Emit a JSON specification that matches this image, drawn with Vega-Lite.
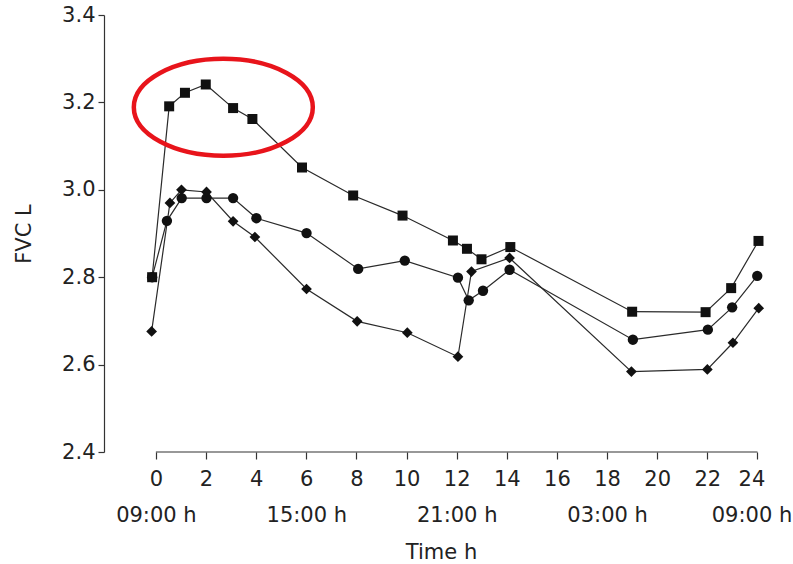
{
  "$schema": "https://vega.github.io/schema/vega-lite/v6.json",
  "autosize": {"type": "none"},
  "padding": {"left": 104, "top": 15, "right": 28, "bottom": 112},
  "width": 661,
  "height": 437,
  "background": "white",
  "config": {
    "view": {"stroke": null},
    "font": "DejaVu Sans",
    "axis": {"labelFont": "DejaVu Sans", "titleFont": "DejaVu Sans", "labelColor": "#222", "titleColor": "#222", "grid": false, "titleFontWeight": "normal"}
  },
  "datasets": {
    "fvc": [
      {"series": "squares", "t": -0.15, "fvc": 2.80},
      {"series": "squares", "t": 0.53, "fvc": 3.191},
      {"series": "squares", "t": 1.16, "fvc": 3.222},
      {"series": "squares", "t": 1.99, "fvc": 3.241},
      {"series": "squares", "t": 3.08, "fvc": 3.187},
      {"series": "squares", "t": 3.85, "fvc": 3.162},
      {"series": "squares", "t": 5.83, "fvc": 3.051},
      {"series": "squares", "t": 7.87, "fvc": 2.987},
      {"series": "squares", "t": 9.84, "fvc": 2.941},
      {"series": "squares", "t": 11.85, "fvc": 2.884},
      {"series": "squares", "t": 12.41, "fvc": 2.865},
      {"series": "squares", "t": 12.99, "fvc": 2.841},
      {"series": "squares", "t": 14.14, "fvc": 2.869},
      {"series": "squares", "t": 19.0, "fvc": 2.721},
      {"series": "squares", "t": 21.93, "fvc": 2.72},
      {"series": "squares", "t": 22.95, "fvc": 2.775},
      {"series": "squares", "t": 24.04, "fvc": 2.883},
      {"series": "circles", "t": -0.15, "fvc": 2.80},
      {"series": "circles", "t": 0.44, "fvc": 2.929},
      {"series": "circles", "t": 1.03, "fvc": 2.981},
      {"series": "circles", "t": 2.02, "fvc": 2.981},
      {"series": "circles", "t": 3.08, "fvc": 2.981},
      {"series": "circles", "t": 4.01, "fvc": 2.935},
      {"series": "circles", "t": 6.01, "fvc": 2.901},
      {"series": "circles", "t": 8.07, "fvc": 2.819},
      {"series": "circles", "t": 9.93, "fvc": 2.838},
      {"series": "circles", "t": 12.05, "fvc": 2.799},
      {"series": "circles", "t": 12.48, "fvc": 2.747},
      {"series": "circles", "t": 13.05, "fvc": 2.769},
      {"series": "circles", "t": 14.11, "fvc": 2.817},
      {"series": "circles", "t": 19.03, "fvc": 2.657},
      {"series": "circles", "t": 22.02, "fvc": 2.68},
      {"series": "circles", "t": 22.99, "fvc": 2.731},
      {"series": "circles", "t": 23.99, "fvc": 2.803},
      {"series": "diamonds", "t": -0.17, "fvc": 2.676},
      {"series": "diamonds", "t": 0.56, "fvc": 2.970},
      {"series": "diamonds", "t": 1.02, "fvc": 3.000},
      {"series": "diamonds", "t": 2.02, "fvc": 2.995},
      {"series": "diamonds", "t": 3.08, "fvc": 2.928},
      {"series": "diamonds", "t": 3.95, "fvc": 2.892},
      {"series": "diamonds", "t": 6.01, "fvc": 2.773},
      {"series": "diamonds", "t": 8.03, "fvc": 2.699},
      {"series": "diamonds", "t": 10.03, "fvc": 2.673},
      {"series": "diamonds", "t": 12.05, "fvc": 2.618},
      {"series": "diamonds", "t": 12.59, "fvc": 2.813},
      {"series": "diamonds", "t": 14.11, "fvc": 2.844},
      {"series": "diamonds", "t": 18.97, "fvc": 2.584},
      {"series": "diamonds", "t": 22.0, "fvc": 2.589},
      {"series": "diamonds", "t": 23.02, "fvc": 2.65},
      {"series": "diamonds", "t": 24.05, "fvc": 2.729}
    ],
    "highlight": [{"t": 2.69, "fvc": 3.189}],
    "xaxisline": [{"t0": 0, "t1": 24, "v": 2.4}]
  },
  "layer": [
    {
      "data": {"name": "xaxisline"},
      "mark": {"type": "rule", "color": "#333", "strokeWidth": 1.2},
      "encoding": {
        "x": {"field": "t0", "type": "quantitative", "scale": {"domain": [-2.07, 24.3], "nice": false, "zero": false},
          "axis": {
            "values": [0, 2, 4, 6, 8, 10, 12, 14, 16, 18, 20, 22, 24],
            "domain": false,
            "tickColor": "#333",
            "tickWidth": 1.2,
            "tickSize": 7,
            "labelFontSize": 21,
            "labelPadding": 9,
            "labelLineHeight": 36,
            "labelBaseline": "top",
            "labelAlign": "center",
            "labelOverlap": false,
            "labelFlush": false,
            "labelBound": false,
            "labelOffset": {"condition": {"test": "datum.value == 24", "value": -6}, "value": 0},
            "labelExpr": "datum.value == 0 || datum.value == 24 ? [datum.label, '09:00 h'] : datum.value == 6 ? [datum.label, '15:00 h'] : datum.value == 12 ? [datum.label, '21:00 h'] : datum.value == 18 ? [datum.label, '03:00 h'] : datum.label",
            "title": "Time h",
            "titleFontSize": 21,
            "titleX": 337,
            "titleY": 100,
            "titleBaseline": "middle"
          }
        },
        "x2": {"field": "t1"},
        "y": {"field": "v", "type": "quantitative", "scale": {"domain": [2.4, 3.4], "nice": false, "zero": false},
          "axis": {
            "values": [2.4, 2.6, 2.8, 3.0, 3.2, 3.4],
            "format": ".1f",
            "domainColor": "#333",
            "domainWidth": 1.2,
            "tickColor": "#333",
            "tickWidth": 1.2,
            "tickSize": 6,
            "labelPadding": 3,
            "labelFontSize": 21,
            "labelOverlap": false,
            "title": "FVC L",
            "titleFontSize": 21,
            "titleAngle": -90,
            "titleX": -80,
            "titleY": 218.5,
            "titleAlign": "center",
            "titleBaseline": "middle"
          }
        }
      }
    },
    {
      "data": {"name": "fvc"},
      "mark": {"type": "line", "color": "#2a2a2a", "strokeWidth": 1.2},
      "encoding": {
        "x": {"field": "t", "type": "quantitative"},
        "y": {"field": "fvc", "type": "quantitative"},
        "detail": {"field": "series"},
        "order": {"field": "t", "type": "quantitative"}
      }
    },
    {
      "data": {"name": "fvc"},
      "mark": {"type": "point", "filled": true, "color": "#111", "opacity": 1},
      "encoding": {
        "x": {"field": "t", "type": "quantitative"},
        "y": {"field": "fvc", "type": "quantitative"},
        "shape": {"field": "series", "type": "nominal", "scale": {"domain": ["squares", "circles", "diamonds"], "range": ["square", "circle", "diamond"]}, "legend": null},
        "size": {"field": "series", "type": "nominal", "scale": {"domain": ["squares", "circles", "diamonds"], "range": [100, 115, 200]}, "legend": null}
      }
    },
    {
      "data": {"name": "highlight"},
      "mark": {"type": "point", "filled": false, "stroke": "#e8141b", "strokeWidth": 4.5, "opacity": 1, "size": 32041, "shape": "M-1,0A1,0.542,0,1,0,1,0A1,0.542,0,1,0,-1,0Z"},
      "encoding": {
        "x": {"field": "t", "type": "quantitative"},
        "y": {"field": "fvc", "type": "quantitative"}
      }
    }
  ]
}
